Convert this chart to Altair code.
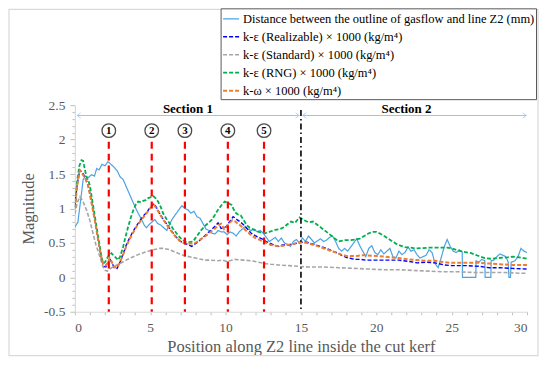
import altair as alt
import pandas as pd

FONT = "Liberation Serif"

# ---------------- data ----------------
series_names = [
    "Distance between the outline of gasflow and line Z2 (mm)",
    "k-ε (Realizable) × 1000 (kg/m⁴)",
    "k-ε (Standard) × 1000 (kg/m⁴)",
    "k-ε (RNG) × 1000 (kg/m⁴)",
    "k-ω × 1000 (kg/m⁴)",
]
series_colors = ["#4BA3E3", "#0000FF", "#A6A6A6", "#00B050", "#ED7D31"]

dist_x = [0, 0.2, 0.4, 0.55, 0.7, 0.9, 1.1, 1.3, 1.45, 1.6, 1.8, 2.0, 2.2, 2.4, 2.6, 2.8, 3.0, 3.2, 3.4, 3.6,
          3.8, 4.0, 4.2, 4.4, 4.6, 4.75, 4.9, 5.1, 5.3, 5.5, 5.7, 5.9, 6.1, 6.3, 6.5, 6.7, 6.9, 7.1, 7.3, 7.5,
          7.7, 7.9, 8.1, 8.3, 8.5, 8.7, 8.9, 9.1, 9.3, 9.5, 9.7, 9.9, 10.1, 10.3, 10.5, 10.7, 10.9, 11.1, 11.3, 11.5,
          11.7, 11.9, 12.1, 12.3, 12.5, 12.7, 12.9, 13.1, 13.3, 13.5, 13.7, 13.9, 14.1, 14.3, 14.5, 14.7, 14.9, 15.1, 15.3, 15.5,
          15.7, 15.9, 16.1, 16.3, 16.5, 16.7, 16.9, 17.1, 17.3, 17.5, 17.7, 17.9, 18.1, 18.3, 18.5, 18.7, 18.9, 19.1, 19.3, 19.5,
          19.7, 19.9, 20.1, 20.3, 20.5, 20.7, 20.9, 21.1, 21.3, 21.5, 21.7, 21.9, 22.1, 22.3, 22.5, 22.7, 22.9, 23.1, 23.3, 23.5,
          23.7, 23.9, 24.1, 24.3, 24.5, 24.7, 24.9, 25.1, 25.3, 25.5, 25.7, 25.72, 26.6, 26.62, 26.8, 27.0, 27.2, 27.22, 27.6, 27.62,
          27.8, 28.0, 28.2, 28.4, 28.6, 28.75, 28.8, 28.9, 28.95, 29.2, 29.4, 29.6, 29.8, 30.0]
dist_y = [0.73, 0.8, 1.15, 1.42, 1.47, 1.45, 1.49, 1.47, 1.58, 1.56, 1.64, 1.62, 1.68, 1.64, 1.6, 1.55, 1.46, 1.42, 1.32, 1.22,
          1.12, 1.02, 0.93, 0.85, 0.76, 0.72, 0.76, 0.8, 0.84, 0.78, 0.76, 0.72, 0.68, 0.78, 0.86, 0.92, 0.98, 1.04, 1.0, 0.98,
          0.93, 0.96, 0.88, 0.86, 0.78, 0.7, 0.68, 0.64, 0.63, 0.68, 0.66, 0.66, 0.62, 0.66, 0.64, 0.6, 0.66, 0.7, 0.74, 0.7,
          0.68, 0.7, 0.66, 0.68, 0.64, 0.58, 0.52, 0.55, 0.58, 0.52, 0.57, 0.5, 0.48, 0.45, 0.52, 0.55, 0.5, 0.57, 0.52, 0.6,
          0.55, 0.5, 0.53, 0.56, 0.52, 0.54, 0.58, 0.6, 0.52, 0.42, 0.38, 0.42, 0.38, 0.44, 0.5, 0.56, 0.46, 0.38, 0.3, 0.42,
          0.46, 0.36, 0.33, 0.4, 0.34, 0.38, 0.42, 0.3, 0.28, 0.38, 0.33, 0.36, 0.44, 0.38, 0.4, 0.33, 0.28, 0.3, 0.32, 0.4,
          0.36, 0.2, 0.14, 0.28, 0.44, 0.55, 0.45, 0.38, 0.36, 0.4, 0.37, 0.0, 0.0, 0.24, 0.22, 0.26, 0.24, 0.0, 0.0, 0.24,
          0.25, 0.3, 0.34, 0.32, 0.3, 0.22, 0.0, 0.0, 0.22, 0.24, 0.3, 0.42, 0.38, 0.36]

real_x = [0, 0.15, 0.33, 0.5, 0.66, 0.85, 1.0, 1.15, 1.33, 1.5, 1.66, 1.8, 1.9, 2.05, 2.2, 2.3, 2.45, 2.6, 2.8, 3.0,
          3.2, 3.43, 3.65, 3.87, 4.1, 4.3, 4.5, 4.75, 4.95, 5.1, 5.25, 5.45, 5.63, 5.85, 6.07, 6.3, 6.5, 6.75, 6.96, 7.2,
          7.45, 7.75, 8.0, 8.2, 8.4, 8.6, 8.85, 9.06, 9.3, 9.5, 9.7, 9.9, 10.05, 10.27, 10.5, 10.65, 10.8, 11.0, 11.2, 11.45,
          11.7, 12.0, 12.4, 12.7, 13.0, 13.3, 13.5, 13.8, 14.1, 14.4, 14.8, 15.1, 15.4, 15.7, 16.0, 16.4, 16.7, 17.0, 17.35, 17.7,
          18.0, 18.4, 18.7, 19.0, 19.3, 20.0, 20.6, 21.0, 21.5, 22.2, 22.7, 23.3, 23.9, 24.5, 25.0, 26.0, 26.8, 27.5, 28.2, 29.0, 30.0]
real_y = [1.02, 1.35, 1.56, 1.52, 1.46, 1.36, 1.22, 1.04, 0.83, 0.6, 0.39, 0.24, 0.16, 0.15, 0.2, 0.27, 0.22, 0.14, 0.13, 0.22,
          0.34, 0.48, 0.58, 0.67, 0.75, 0.82, 0.88, 0.94, 1.0, 1.04, 1.07, 1.0, 0.93, 0.85, 0.78, 0.71, 0.65, 0.58, 0.53, 0.5,
          0.48, 0.45, 0.49, 0.52, 0.56, 0.6, 0.65, 0.69, 0.74, 0.79, 0.71, 0.72, 0.74, 0.81, 0.88, 0.86, 0.83, 0.8, 0.76, 0.7,
          0.64, 0.6, 0.56, 0.52, 0.49, 0.46, 0.45, 0.47, 0.47, 0.48, 0.5, 0.51, 0.51, 0.49, 0.47, 0.44, 0.42, 0.39, 0.36, 0.32,
          0.29, 0.27, 0.26, 0.26, 0.25, 0.25, 0.25, 0.25, 0.25, 0.23, 0.21, 0.22, 0.21, 0.18, 0.17, 0.17, 0.16, 0.14, 0.14, 0.13, 0.12]

std_x = [0, 0.15, 0.33, 0.5, 0.77, 1.0, 1.2, 1.4, 1.66, 1.85, 2.0, 2.15, 2.3, 2.6, 3.0, 3.4, 3.87, 4.3, 4.75, 5.2,
         5.63, 5.9, 6.3, 6.6, 6.96, 7.3, 7.6, 8.0, 8.6, 9.0, 9.5, 9.8, 10.1, 10.6, 11.2, 11.7, 12.2, 12.6, 13.0, 13.5,
         14.2, 14.8, 15.5, 16.5, 17.5, 18.5, 19.5, 20.5, 21.5, 22.5, 23.5, 24.5, 25.5, 26.5, 27.5, 28.5, 29.5, 30.0]
std_y = [0.92, 1.08, 1.17, 1.12, 0.98, 0.82, 0.64, 0.47, 0.3, 0.16, 0.1, 0.09, 0.12, 0.16, 0.2, 0.25, 0.3, 0.34, 0.37, 0.4,
         0.42, 0.42, 0.4, 0.37, 0.34, 0.31, 0.3, 0.28, 0.25, 0.25, 0.24, 0.25, 0.23, 0.26, 0.25, 0.24, 0.22, 0.2, 0.19, 0.18,
         0.17, 0.16, 0.15, 0.15, 0.14, 0.13, 0.12, 0.11, 0.11, 0.1, 0.09, 0.08, 0.08, 0.07, 0.07, 0.07, 0.06, 0.06]

rng_x = [0, 0.15, 0.3, 0.44, 0.55, 0.65, 0.77, 0.9, 1.0, 1.15, 1.33, 1.5, 1.66, 1.78, 1.88, 2.0, 2.1, 2.25, 2.43, 2.55,
         2.65, 2.87, 3.0, 3.2, 3.35, 3.53, 3.7, 3.87, 4.05, 4.2, 4.4, 4.53, 4.7, 4.86, 5.0, 5.2, 5.35, 5.52, 5.7, 5.85,
         6.07, 6.3, 6.5, 6.74, 7.0, 7.3, 7.6, 7.84, 8.1, 8.4, 8.7, 9.06, 9.3, 9.5, 9.7, 9.94, 10.15, 10.4, 10.55, 10.7,
         10.85, 11.0, 11.2, 11.4, 11.6, 11.9, 12.2, 12.6, 12.9, 13.3, 13.6, 13.9, 14.1, 14.35, 14.6, 14.9, 15.2, 15.5, 15.8, 16.1,
         16.4, 16.7, 17.1, 17.5, 17.9, 18.3, 18.6, 18.9, 19.2, 19.5, 19.8, 20.0, 20.3, 20.6, 21.0, 21.3, 21.6, 21.9, 22.3, 22.6,
         23.5, 24.0, 24.7, 25.0, 25.4, 25.8, 26.3, 26.8, 27.2, 27.6, 28.1, 28.7, 29.1, 29.5, 30.0]
rng_y = [1.0, 1.4, 1.62, 1.7, 1.69, 1.58, 1.46, 1.4, 1.33, 1.12, 0.88, 0.65, 0.44, 0.28, 0.2, 0.22, 0.26, 0.32, 0.35, 0.32,
         0.3, 0.25, 0.3, 0.44, 0.58, 0.73, 0.86, 0.97, 1.06, 1.1, 1.09, 1.11, 1.12, 1.15, 1.16, 1.18, 1.15, 1.1, 1.02, 0.93,
         0.85, 0.78, 0.71, 0.64, 0.57, 0.52, 0.51, 0.52, 0.6, 0.69, 0.76, 0.83, 0.91, 0.98, 1.04, 1.1, 1.08, 1.05, 0.98, 0.93,
         0.91, 0.9, 0.83, 0.76, 0.72, 0.69, 0.66, 0.64, 0.66, 0.69, 0.7, 0.73, 0.77, 0.81, 0.79, 0.87, 0.83, 0.8, 0.81, 0.76,
         0.71, 0.66, 0.59, 0.52, 0.54, 0.54, 0.55, 0.56, 0.6, 0.64, 0.66, 0.66, 0.63, 0.59, 0.53, 0.49, 0.46, 0.44, 0.43, 0.42,
         0.43, 0.43, 0.43, 0.42, 0.39, 0.37, 0.35, 0.31, 0.28, 0.27, 0.28, 0.29, 0.3, 0.29, 0.27]

kw_x = [0, 0.15, 0.33, 0.5, 0.66, 0.85, 1.0, 1.15, 1.33, 1.5, 1.66, 1.8, 1.9, 2.05, 2.2, 2.3, 2.45, 2.6, 2.8, 3.0,
        3.2, 3.43, 3.65, 3.87, 4.1, 4.3, 4.5, 4.75, 4.95, 5.1, 5.25, 5.45, 5.63, 5.85, 6.07, 6.3, 6.5, 6.75, 6.96, 7.2,
        7.45, 7.75, 8.0, 8.2, 8.4, 8.6, 8.85, 9.06, 9.3, 9.5, 9.7, 9.9, 10.05, 10.27, 10.45, 10.65, 10.8, 11.0, 11.2, 11.45,
        11.7, 12.0, 12.4, 12.7, 13.0, 13.3, 13.5, 13.8, 14.1, 14.4, 14.8, 15.1, 15.4, 15.7, 16.0, 16.4, 16.7, 17.0, 17.35, 17.7,
        18.0, 18.4, 18.7, 19.0, 19.3, 20.0, 20.6, 21.0, 21.5, 22.2, 22.7, 23.3, 23.9, 24.5, 25.0, 26.0, 26.8, 27.5, 28.2, 29.0, 30.0]
kw_y = [1.0, 1.33, 1.55, 1.5, 1.45, 1.35, 1.2, 1.03, 0.82, 0.6, 0.4, 0.25, 0.18, 0.17, 0.22, 0.28, 0.22, 0.15, 0.14, 0.22,
        0.33, 0.46, 0.56, 0.65, 0.74, 0.8, 0.86, 0.93, 0.99, 1.03, 1.05, 0.99, 0.92, 0.84, 0.77, 0.7, 0.64, 0.57, 0.53, 0.5,
        0.49, 0.49, 0.5, 0.53, 0.56, 0.59, 0.63, 0.67, 0.71, 0.75, 0.78, 0.7, 0.73, 0.79, 0.83, 0.81, 0.78, 0.75, 0.71, 0.66,
        0.61, 0.57, 0.53, 0.5, 0.47, 0.46, 0.45, 0.46, 0.47, 0.48, 0.5, 0.51, 0.5, 0.48, 0.46, 0.43, 0.41, 0.38, 0.36, 0.33,
        0.31, 0.31, 0.31, 0.32, 0.32, 0.31, 0.3, 0.29, 0.28, 0.26, 0.25, 0.24, 0.24, 0.22, 0.21, 0.21, 0.21, 0.2, 0.19, 0.18, 0.18]

marker_x = [2.25, 5.1, 7.3, 10.15, 12.55]
marker_labels = ["1", "2", "3", "4", "5"]
marker_top = 1.97
boundary_x = 15.0
boundary_top = 2.43

section_labels = ["Section 1", "Section 2"]
section_label_x = [7.5, 22.0]
section_start = [0.15, 15.12]
section_end = [14.88, 29.95]
section_y = 2.35
section_label_y = 2.45
circle_y = 2.13

x_ticks = list(range(0, 31))
y_ticks = [round(-0.5 + 0.1 * i, 1) for i in range(31)]

# ---------------- build tables ----------------
rows = []
for name, xs, ys in zip(series_names, [dist_x, real_x, std_x, rng_x, kw_x],
                        [dist_y, real_y, std_y, rng_y, kw_y]):
    for i, (xv, yv) in enumerate(zip(xs, ys)):
        rows.append({"series": name, "x": xv, "y": yv, "i": i})
df_lines = pd.DataFrame(rows)

df_markers = pd.DataFrame({"x": marker_x, "label": marker_labels, "top": marker_top,
                           "bottom": -0.5, "cy": circle_y})
df_boundary = pd.DataFrame({"x": [boundary_x], "top": [boundary_top], "bottom": [-0.5]})
df_sections = pd.DataFrame({"label": section_labels, "lx": section_label_x, "x1": section_start,
                            "x2": section_end, "y": section_y, "ly": section_label_y})

xscale = alt.Scale(domain=[0, 30], nice=False, zero=False)
yscale = alt.Scale(domain=[-0.5, 2.5], nice=False, zero=False)

major_y = "abs(datum.value*2 - round(datum.value*2)) < 0.001"
major_x = "abs(datum.value/5 - round(datum.value/5)) < 0.001"

axis_style = dict(labelFont=FONT, titleFont=FONT, labelFontSize=13.5, titleFontSize=16.5,
                  labelColor="#595959", titleColor="#595959", titleFontWeight="normal",
                  domainColor="#D9D9D9", tickColor="#BFBFBF", domainWidth=1.2, grid=False)

x_axis = alt.Axis(values=x_ticks, title="Position along Z2 line inside the cut kerf",
                  labelExpr=f"{major_x} ? datum.label : ''", format="d",
                  tickSize=3, labelPadding=6, titlePadding=4, **axis_style)
y_axis = alt.Axis(values=y_ticks, title="Magnitude", format="~g",
                  labelExpr=f"{major_y} ? replace(datum.label, '\u2212', '-') : ''",
                  tickSize={"condition": {"test": major_y, "value": 5}, "value": 3},
                  labelPadding=5, titlePadding=7, **axis_style)


def X(field):
    return alt.X(field, type="quantitative", scale=xscale, axis=x_axis)


def Y(field):
    return alt.Y(field, type="quantitative", scale=yscale, axis=y_axis)


one = alt.Data(values=[{"a": 1}])

frame = alt.Chart(one).mark_rect(filled=False, stroke="#D9D9D9", strokeWidth=1.2).encode(
    x=alt.value(-66), x2=alt.value(464), y=alt.value(-96), y2=alt.value(251))

lines = alt.Chart(df_lines).mark_line(clip=True).encode(
    x=X("x"),
    y=Y("y"),
    order="i:Q",
    color=alt.Color("series:N", scale=alt.Scale(domain=series_names, range=series_colors),
                    legend=alt.Legend(title=None)),
    strokeDash=alt.StrokeDash("series:N", scale=alt.Scale(domain=series_names,
                              range=[[1, 0], [4, 2], [4, 2], [4, 2], [4, 2]]),
                              legend=alt.Legend(title=None)),
    strokeWidth=alt.StrokeWidth("series:N", scale=alt.Scale(domain=series_names,
                                range=[1.2, 2, 2, 2, 2]), legend=None),
)

red_rules = alt.Chart(df_markers).mark_rule(color="#FF0000", strokeWidth=2.2, strokeDash=[7, 5]).encode(
    x=X("x"), y=Y("top"), y2="bottom:Q")

black_rule = alt.Chart(df_boundary).mark_rule(color="#000000", strokeWidth=1.6,
                                              strokeDash=[6, 3, 1.5, 3]).encode(
    x=X("x"), y=Y("top"), y2="bottom:Q")

arrows = alt.Chart(df_sections).mark_rule(color="#9DC3E6", strokeWidth=1).encode(
    x=X("x1"), x2="x2:Q", y=Y("y"))
left_heads = alt.Chart(df_sections).mark_point(shape="M1,-0.75L0,0L1,0.75", filled=False,
                                               color="#9DC3E6", size=50, strokeWidth=1).encode(
    x=X("x1"), y=Y("y"))
right_heads = alt.Chart(df_sections).mark_point(shape="M-1,-0.75L0,0L-1,0.75", filled=False,
                                                color="#9DC3E6", size=50, strokeWidth=1).encode(
    x=X("x2"), y=Y("y"))
sec_text = alt.Chart(df_sections).mark_text(font=FONT, fontSize=13, fontWeight="bold",
                                            color="#000000", baseline="middle").encode(
    x=X("lx"), y=Y("ly"), text="label:N")

circles = alt.Chart(df_markers).mark_point(shape="circle", filled=False, size=185,
                                           color="#000000", strokeWidth=1.3).encode(
    x=X("x"), y=Y("cy"))
circ_text = alt.Chart(df_markers).mark_text(font=FONT, fontSize=11, fontWeight="bold",
                                            color="#000000", baseline="middle", dy=0.5).encode(
    x=X("x"), y=Y("cy"), text="label:N")

chart = alt.layer(
    frame, lines, red_rules, black_rule, arrows, left_heads, right_heads, sec_text, circles, circ_text
).properties(
    width=453, height=207,
    autosize=alt.AutoSizeParams(type="none"),
    padding={"left": 67, "top": 97, "right": 15, "bottom": 52},
).configure_view(
    stroke=None
).configure_axis(
    labelFont=FONT, titleFont=FONT,
).configure_legend(
    orient="none", legendX=146, legendY=-97,
    strokeColor="#595959", fillColor="#FFFFFF", padding=1.5,
    labelFont=FONT, labelFontSize=12.5, labelColor="#000000", labelLimit=400,
    symbolType="stroke", symbolSize=256, symbolStrokeWidth=2, rowPadding=2,
    labelOffset=3,
)

chart.save("out.html", embed_options={"renderer": "svg", "actions": False})
